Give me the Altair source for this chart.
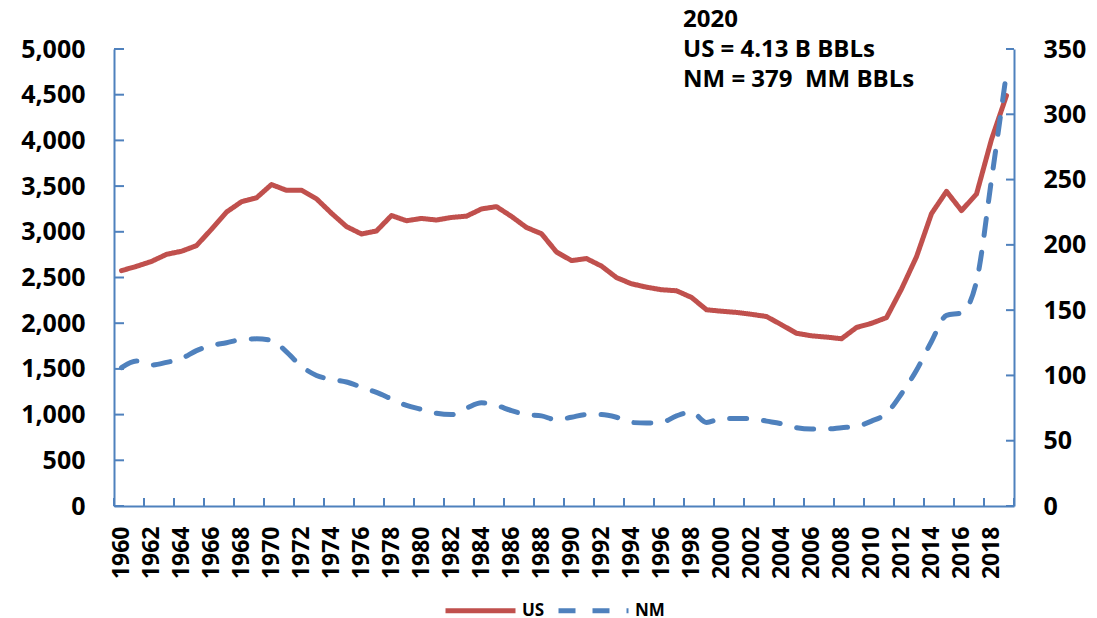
import altair as alt
import pandas as pd

years = list(range(1960, 2020))

us_prod = [2575, 2622, 2676, 2753, 2787, 2849, 3028, 3216, 3329, 3372,
           3517, 3454, 3455, 3361, 3203, 3057, 2976, 3009, 3178, 3121,
           3146, 3129, 3157, 3171, 3250, 3275, 3168, 3047, 2979, 2779,
           2685, 2707, 2625, 2499, 2431, 2394, 2366, 2355, 2282, 2147,
           2131, 2118, 2097, 2073, 1983, 1890, 1862, 1848, 1830, 1953,
           1999, 2061, 2374, 2727, 3199, 3442, 3232, 3413, 4011, 4491]

nm_prod = [106, 111, 108, 110, 113, 119, 123, 125, 127.5, 128,
           127, 118, 107, 100, 97, 95, 91, 87, 82, 77,
           74, 71, 70, 75, 79, 77, 73, 70, 69, 66,
           68, 70, 70, 68, 64, 63.5, 64, 69, 72, 64,
           67, 67, 67, 65, 63, 60, 59, 59, 60, 61,
           65, 71, 86, 104, 126, 146, 148, 172, 250, 332]

series_names = ["US", "NM"]
series_colors = ["#C0504D", "#4F81BD"]
x_label_years = list(range(1960, 2019, 2))
x_tick_pos = [y - 0.5 for y in range(1960, 2021, 2)]
left_ticks = list(range(0, 5001, 500))
right_ticks = list(range(0, 351, 50))
note_lines = "2020\nUS = 4.13 B BBLs\nNM = 379\u00a0 MM BBLs"

W, H = 900, 457
AXIS_BLUE = "#4F81BD"
FONT = "Open Sans"

us_df = pd.DataFrame({"year": years, "value": us_prod, "series": "US"})
nm_df = pd.DataFrame({"year": years, "value": nm_prod, "series": "NM"})

xscale = alt.Scale(domain=[1959.5, 2019.5], nice=False, zero=False)
lscale = alt.Scale(domain=[0, 5000], nice=False)
rscale = alt.Scale(domain=[0, 350], nice=False)

x_axis = alt.Axis(values=x_label_years, format="d", labelAngle=-90,
                  labelFont=FONT, labelFontSize=23, labelFontWeight="bold",
                  labelColor="black", labelPadding=20, ticks=False, grid=False,
                  domainColor=AXIS_BLUE, domainWidth=2, labelOverlap=False,
                  labelFlush=False, title=None)
left_axis = alt.Axis(values=left_ticks, format=",.0f", labelFont=FONT, labelFontSize=25,
                     labelFontWeight="bold", labelColor="black", labelPadding=29,
                     ticks=False, grid=False, domainColor=AXIS_BLUE, domainWidth=2,
                     labelOverlap=False, labelFlush=False, title=None)
right_axis = alt.Axis(orient="right", values=right_ticks, format="d", labelFont=FONT,
                      labelFontSize=25, labelFontWeight="bold", labelColor="black",
                      labelPadding=29, ticks=False, grid=False, domainColor=AXIS_BLUE,
                      domainWidth=2, labelOverlap=False, labelFlush=False, title=None)

legend_def = alt.Legend(
    title=None, orient="none", legendX=329, legendY=524,
    direction="horizontal", columns=2, columnPadding=3,
    symbolType="stroke", symbolSize=4900, symbolStrokeWidth=5,
    labelFont=FONT, labelFontSize=17, labelFontWeight="bold",
    labelColor="black", labelOffset=4, padding=0,
)
color_enc = alt.Color("series:N",
                      scale=alt.Scale(domain=series_names, range=series_colors),
                      legend=legend_def)
dash_enc = alt.StrokeDash("series:N",
                          scale=alt.Scale(domain=series_names, range=[[1, 0], [17, 17]]),
                          legend=legend_def)

us_line = alt.Chart(us_df).mark_line(strokeWidth=5, strokeCap="round", strokeJoin="round").encode(
    x=alt.X("year:Q", scale=xscale, axis=x_axis),
    y=alt.Y("value:Q", scale=lscale, axis=left_axis),
    color=color_enc,
    strokeDash=dash_enc,
)

left_tick_marks = alt.Chart(pd.DataFrame({"value": left_ticks})).mark_rule(
    color=AXIS_BLUE, strokeWidth=2).encode(
    y=alt.Y("value:Q", scale=lscale, axis=left_axis),
    x=alt.value(0), x2=alt.value(10),
)

nm_line = alt.Chart(nm_df).mark_line(strokeWidth=5, strokeCap="round", strokeJoin="round",
                                     interpolate="monotone").encode(
    x=alt.X("year:Q", scale=xscale, axis=x_axis),
    y=alt.Y("value:Q", scale=rscale, axis=right_axis),
    color=color_enc,
    strokeDash=dash_enc,
)

right_tick_marks = alt.Chart(pd.DataFrame({"value": right_ticks})).mark_rule(
    color=AXIS_BLUE, strokeWidth=2).encode(
    y=alt.Y("value:Q", scale=rscale, axis=right_axis),
    x=alt.value(W - 8), x2=alt.value(W),
)

x_tick_marks = alt.Chart(pd.DataFrame({"year": x_tick_pos})).mark_rule(
    color=AXIS_BLUE, strokeWidth=2).encode(
    x=alt.X("year:Q", scale=xscale, axis=x_axis),
    y=alt.value(H), y2=alt.value(H - 8),
)

note = alt.Chart(pd.DataFrame({"t": [note_lines]})).mark_text(
    align="left", baseline="alphabetic", font=FONT, fontSize=24, fontWeight="bold",
    color="black", lineBreak="\n", lineHeight=30,
).encode(text="t:N", x=alt.value(569), y=alt.value(-22))

left = alt.layer(us_line, left_tick_marks)
right = alt.layer(nm_line, right_tick_marks)

chart = alt.layer(left, right, x_tick_marks, note).resolve_scale(
    y="independent"
).properties(
    width=W, height=H,
    autosize=alt.AutoSizeParams(type="none"),
    padding={"left": 106, "top": 41, "right": 75, "bottom": 112},
    background="white",
).configure_view(stroke=None)

chart.save("out.html", embed_options={"renderer": "svg", "actions": False})
